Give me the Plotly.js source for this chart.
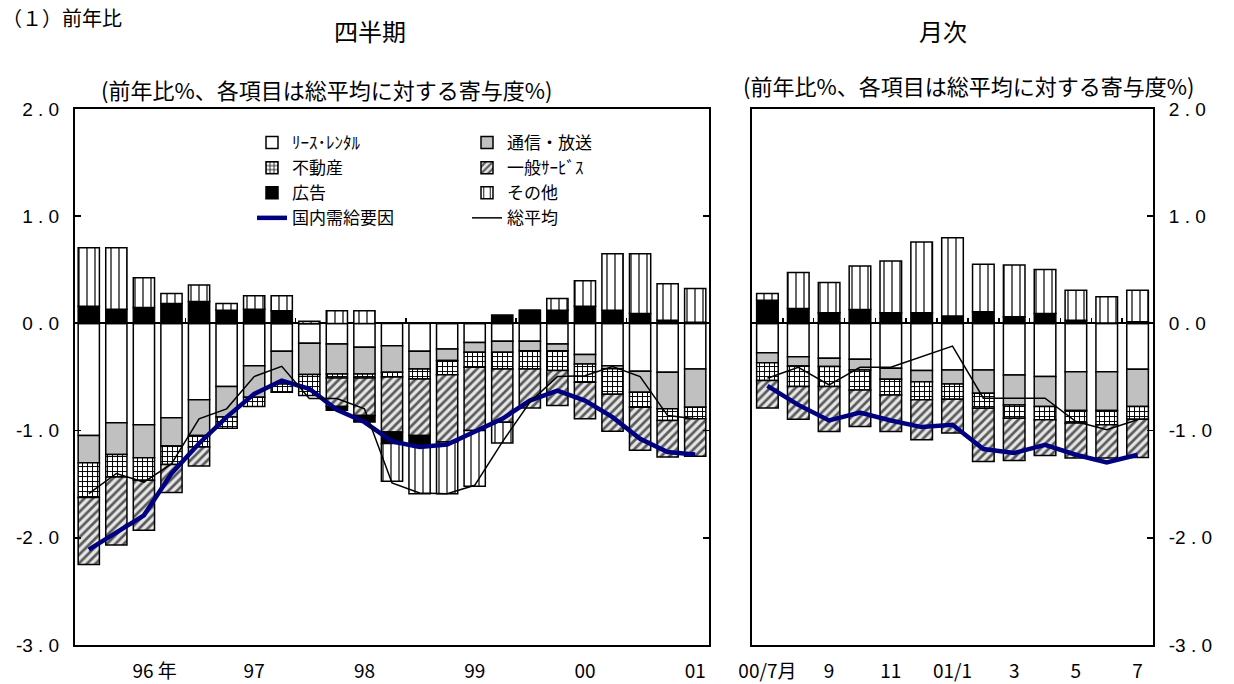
<!DOCTYPE html>
<html><head><meta charset="utf-8">
<script src="https://cdn.plot.ly/plotly-3.0.1.min.js"></script>
<style>body{margin:0;background:#fff}#chart{width:1234px;height:684px}</style>
</head><body><div id="chart"></div>
<script>
// ---- Quarterly (四半期) ----
const quarters = ['96/1Q','96/2Q','96/3Q','96/4Q','97/1Q','97/2Q','97/3Q','97/4Q','98/1Q','98/2Q','98/3Q','98/4Q',
  '99/1Q','99/2Q','99/3Q','99/4Q','00/1Q','00/2Q','00/3Q','00/4Q','01/1Q','01/2Q','01/3Q'];
const quarterTickVals = ['96/3Q','97/3Q','98/3Q','99/3Q','00/3Q','01/3Q'];
const quarterTickText = ['\u00a0\u00a0\u00a0\u00a0\u00a096 年','97','98','99','00','01'];
const leaseQ   = [-1.045,-0.927,-0.946,-0.88,-0.713,-0.589,-0.394,-0.26,-0.186,-0.192,-0.223,-0.208,-0.26,-0.239,-0.177,-0.167,-0.167,-0.192,-0.291,-0.394,-0.447,-0.456,-0.425];
const telecomQ = [-0.255,-0.295,-0.307,-0.264,-0.332,-0.285,-0.294,-0.304,-0.291,-0.279,-0.248,-0.248,-0.165,-0.108,-0.093,-0.103,-0.087,-0.062,-0.087,-0.03,-0.195,-0.341,-0.356];
const realEstateQ = [-0.325,-0.211,-0.211,-0.171,-0.108,-0.103,-0.087,-0.078,-0.196,-0.037,-0.037,-0.044,-0.093,-0.131,-0.139,-0.155,-0.171,-0.186,-0.171,-0.236,-0.139,-0.108,-0.109];
const generalQ = [-0.625,-0.635,-0.465,-0.263,-0.177,0,0,0,0,-0.267,-0.351,-0.514,-0.527,-0.629,-0.589,-0.496,-0.363,-0.326,-0.341,-0.345,-0.403,-0.342,-0.35];
const advertQ  = [0.161,0.133,0.149,0.186,0.204,0.124,0.133,0.118,0,-0.035,-0.061,-0.106,-0.093,0,0,0.078,0.124,0.124,0.16,0.124,0.093,0.03,0.01];
const otherQ   = [0.545,0.573,0.278,0.093,0.155,0.062,0.124,0.139,0.02,0.118,0.118,-0.353,-0.45,-0.481,-0.521,-0.195,0,0.109,0.237,0.527,0.558,0.34,0.316];
const domesticQ = [-2.11,-1.95,-1.79,-1.40,-1.12,-0.874,-0.657,-0.533,-0.61,-0.806,-0.92,-1.10,-1.153,-1.13,-1.014,-0.89,-0.72,-0.626,-0.72,-0.874,-1.076,-1.20,-1.222];
const totalQ    = [-1.588,-1.40,-1.48,-1.31,-0.89,-0.797,-0.496,-0.40,-0.70,-0.70,-0.797,-1.488,-1.581,-1.588,-1.51,-1.107,-0.735,-0.496,-0.487,-0.403,-0.496,-0.86,-0.89];
const yearBoundaryTicks = [3.5, 7.5, 11.5, 15.5, 19.5];

// ---- Monthly (月次) ----
const months = ['00/7','00/8','00/9','00/10','00/11','00/12','01/1','01/2','01/3','01/4','01/5','01/6','01/7'];
const monthTickVals = ['00/7','00/9','00/11','01/1','01/3','01/5','01/7'];
const monthTickText = ['00/7月','9','11','01/1','3','5','7'];
const leaseM   = [-0.273,-0.31,-0.326,-0.335,-0.419,-0.44,-0.434,-0.434,-0.481,-0.496,-0.45,-0.45,-0.428];
const telecomM = [-0.093,-0.087,-0.077,-0.099,-0.102,-0.103,-0.13,-0.217,-0.279,-0.279,-0.362,-0.362,-0.347];
const realEstateM = [-0.167,-0.192,-0.186,-0.186,-0.146,-0.17,-0.143,-0.14,-0.124,-0.124,-0.118,-0.134,-0.118];
const generalM = [-0.257,-0.304,-0.419,-0.341,-0.341,-0.372,-0.316,-0.496,-0.394,-0.332,-0.326,-0.31,-0.357];
const advertM  = [0.217,0.14,0.10,0.13,0.10,0.10,0.07,0.108,0.062,0.093,0.03,0.005,0.015];
const otherM   = [0.062,0.334,0.281,0.406,0.483,0.66,0.73,0.444,0.484,0.409,0.28,0.243,0.295];
const domesticM = [-0.583,-0.76,-0.905,-0.831,-0.905,-0.967,-0.946,-1.172,-1.209,-1.132,-1.225,-1.296,-1.225];
const totalM    = [-0.512,-0.409,-0.574,-0.409,-0.409,-0.31,-0.211,-0.698,-0.698,-0.698,-0.915,-0.992,-0.899];
const monthBoundaryTicks = [0.5,1.5,2.5,3.5,4.5,5.5,6.5,7.5,8.5,9.5,10.5,11.5];

const yTickVals = [-3,-2,-1,0,1,2];
const yTickText = ['-3 . 0','-2 . 0','-1 . 0','0 . 0','1 . 0','2 . 0'];

const names = ['ﾘｰｽ･ﾚﾝﾀﾙ','通信・放送','不動産','一般ｻｰﾋﾞｽ','広告','その他','国内需給要因','総平均'];
const legendOf = ['legend','legend2','legend','legend2','legend','legend2','legend','legend2'];

const edge = {color:'#000', width:1.5};
const styles = [
  {color:'#ffffff', line:edge},
  {color:'#c0c0c0', line:edge},
  {color:'#ffffff', line:edge, pattern:{shape:'+', fgcolor:'#000', bgcolor:'#fff', size:5, solidity:0.35}},
  {color:'#ffffff', line:edge, pattern:{shape:'/', fgcolor:'#5a5a5a', bgcolor:'#e6e6e6', size:6, solidity:0.45}},
  {color:'#000000', line:edge},
  {color:'#ffffff', line:edge, pattern:{shape:'|', fgcolor:'#000', bgcolor:'#fff', size:8, solidity:0.15}}
];

const CJK = "'Noto Sans CJK JP', sans-serif";
const NUM = "'Liberation Sans', Arial, sans-serif";
const NARROW = "'Liberation Sans Narrow', 'Arial Narrow', 'Noto Sans CJK JP', sans-serif";

function panel(cats, series, lines, xa, ya, width, legendOn){
  const tr = [];
  series.forEach((vals,i)=>{
    tr.push({type:'bar', x:cats, y:vals, name:names[i], xaxis:xa, yaxis:ya, width:width,
      marker:styles[i], showlegend:legendOn, legend:legendOf[i], hoverinfo:'y+name'});
  });
  tr.push({type:'scatter', mode:'lines', x:cats, y:lines[0], name:names[6], xaxis:xa, yaxis:ya,
    line:{color:'#000080', width:4.5}, showlegend:legendOn, legend:legendOf[6]});
  tr.push({type:'scatter', mode:'lines', x:cats, y:lines[1], name:names[7], xaxis:xa, yaxis:ya,
    line:{color:'#000', width:1.5}, showlegend:legendOn, legend:legendOf[7]});
  return tr;
}

const traces = [
  ...panel(quarters, [leaseQ,telecomQ,realEstateQ,generalQ,advertQ,otherQ], [domesticQ,totalQ], 'x','y',0.77,true),
  ...panel(months, [leaseM,telecomM,realEstateM,generalM,advertM,otherM], [domesticM,totalM], 'x2','y2',0.7,false),
  {type:'scatter', x:[], y:[], xaxis:'x3', yaxis:'y', showlegend:false, hoverinfo:'skip'},
  {type:'scatter', x:[], y:[], xaxis:'x4', yaxis:'y2', showlegend:false, hoverinfo:'skip'}
];

const yDom = [0.057, 0.8406];
const zeroPos = 1 - 323.4/684;
const xDomL = [75/1234, 709/1234];
const xDomR = [752/1234, 1153/1234];

const layout = {
  width:1234, height:684, margin:{l:0,r:0,t:0,b:0},
  paper_bgcolor:'#fff', plot_bgcolor:'#fff',
  barmode:'relative',
  font:{family:NUM, color:'#000'},
  xaxis:{domain:xDomL, anchor:'y', type:'category', range:[-0.5,22.5], tickmode:'array',
    tickvals:quarterTickVals, ticktext:quarterTickText, ticks:'', showgrid:false,
    showline:true, linecolor:'#000', linewidth:2, mirror:true, ticklabelstandoff:8,
    tickfont:{family:NARROW, size:19}},
  yaxis:{domain:yDom, anchor:'x', range:[-3,2], tickmode:'array', tickvals:yTickVals, ticktext:yTickText,
    ticks:'inside', ticklen:6, tickwidth:1.5, tickcolor:'#000', showgrid:false,
    showline:true, linecolor:'#000', linewidth:2, mirror:'ticks',
    zeroline:true, zerolinecolor:'#000', zerolinewidth:2, ticklabelstandoff:10,
    tickfont:{family:NUM, size:19}},
  xaxis2:{domain:xDomR, anchor:'y2', type:'category', range:[-0.5,12.5], tickmode:'array',
    tickvals:monthTickVals, ticktext:monthTickText, ticks:'', showgrid:false,
    showline:true, linecolor:'#000', linewidth:2, mirror:true, ticklabelstandoff:8,
    tickfont:{family:NARROW, size:19}},
  yaxis2:{domain:yDom, anchor:'x2', side:'right', range:[-3,2], tickmode:'array', tickvals:yTickVals, ticktext:yTickText,
    ticks:'inside', ticklen:6, tickwidth:1.5, tickcolor:'#000', showgrid:false,
    showline:true, linecolor:'#000', linewidth:2, mirror:true,
    zeroline:true, zerolinecolor:'#000', zerolinewidth:2, ticklabelstandoff:10,
    tickfont:{family:NUM, size:19}},
  xaxis3:{overlaying:'x', anchor:'free', position:zeroPos, side:'top', range:[-0.5,22.5],
    tickmode:'array', tickvals:yearBoundaryTicks, ticks:'outside', ticklen:5, tickwidth:1.5, tickcolor:'#000',
    showticklabels:false, showline:false, showgrid:false, zeroline:false},
  xaxis4:{overlaying:'x2', anchor:'free', position:zeroPos, side:'top', range:[-0.5,12.5],
    tickmode:'array', tickvals:monthBoundaryTicks, ticks:'outside', ticklen:5, tickwidth:1.5, tickcolor:'#000',
    showticklabels:false, showline:false, showgrid:false, zeroline:false},
  legend:{x:252/1234, y:1-125/684, xanchor:'left', yanchor:'top', bgcolor:'rgba(0,0,0,0)',
    font:{family:CJK, size:17}, tracegroupgap:0, traceorder:'normal'},
  legend2:{x:467/1234, y:1-125/684, xanchor:'left', yanchor:'top', bgcolor:'rgba(0,0,0,0)',
    font:{family:CJK, size:17}, tracegroupgap:0, traceorder:'normal'},
  annotations:[
    {text:'（１）前年比', xref:'paper', yref:'paper', x:0, y:1-1/684, xanchor:'left', yanchor:'top',
      showarrow:false, font:{family:CJK, size:20}},
    {text:'四半期', xref:'paper', yref:'paper', x:370/1234, y:1-31/684, xanchor:'center', yanchor:'middle',
      showarrow:false, font:{family:CJK, size:24}},
    {text:'月次', xref:'paper', yref:'paper', x:943/1234, y:1-31/684, xanchor:'center', yanchor:'middle',
      showarrow:false, font:{family:CJK, size:24}},
    {text:'(前年比%、各項目は総平均に対する寄与度%)', xref:'paper', yref:'paper', x:326/1234, y:1-89/684,
      xanchor:'center', yanchor:'middle', showarrow:false, font:{family:CJK, size:22}},
    {text:'(前年比%、各項目は総平均に対する寄与度%)', xref:'paper', yref:'paper', x:968/1234, y:1-85/684,
      xanchor:'center', yanchor:'middle', showarrow:false, font:{family:CJK, size:22}}
  ]
};

Plotly.newPlot('chart', traces, layout, {staticPlot:true, displayModeBar:false});
</script>
</body></html>
